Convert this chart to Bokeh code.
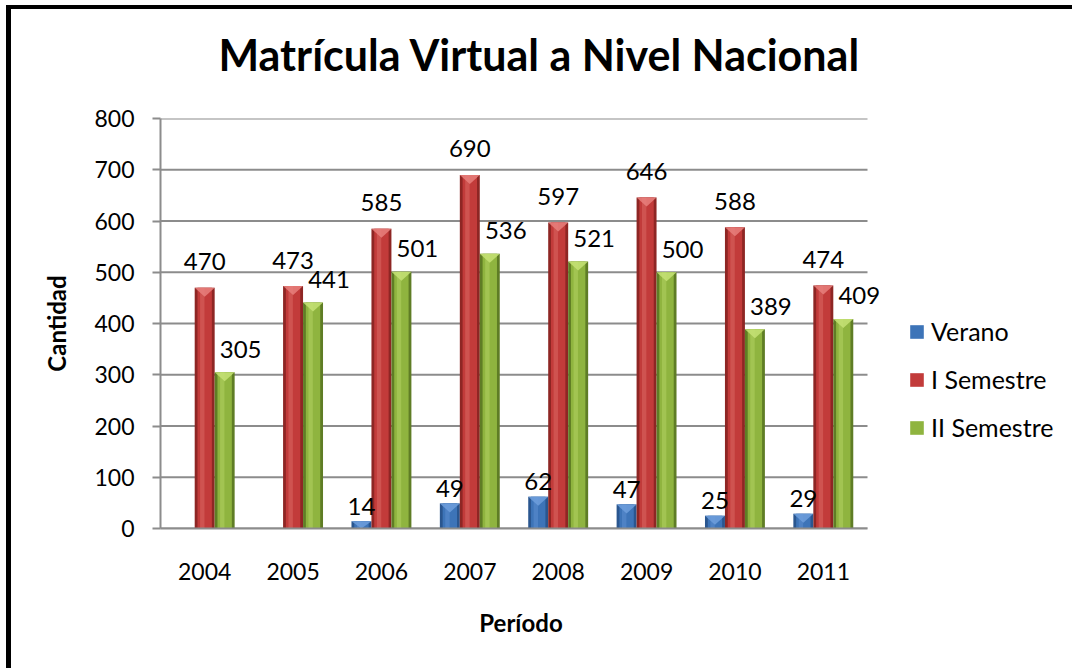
import numpy as np
from bokeh.plotting import figure
from bokeh.models import Range1d, FixedTicker, Legend, LegendItem, ColumnDataSource, LabelSet, Title
from bokeh.core.properties import value
from bokeh.embed import file_html
from bokeh.resources import INLINE

# ---- data ----
years = ["2004", "2005", "2006", "2007", "2008", "2009", "2010", "2011"]
verano = [0, 0, 14, 49, 62, 47, 25, 29]
i_semestre = [470, 473, 585, 690, 597, 646, 588, 474]
ii_semestre = [305, 441, 501, 536, 521, 500, 389, 409]
series_names = ["Verano", "I Semestre", "II Semestre"]
y_ticks = [0, 100, 200, 300, 400, 500, 600, 700, 800]
title_text = "Matrícula Virtual a Nivel Nacional"

FONT = "Lato"
n = len(years)
Y_MAX = 800
PLOT_W, PLOT_H = 707, 410          # pixel size of the category/value area
CAT_PX = PLOT_W / n
PX_PER_UNIT = PLOT_H / Y_MAX
EXTRA_R = 14                        # room so the last label is not clipped

p = figure(frame_width=PLOT_W + EXTRA_R, frame_height=PLOT_H,
           output_backend="svg", toolbar_location=None,
           x_range=Range1d(0, n + EXTRA_R / CAT_PX), y_range=Range1d(0, Y_MAX),
           min_border_left=149, min_border_right=205 - EXTRA_R, min_border_top=109,
           min_border_bottom=140)
p.styles = {"margin-left": "6px", "margin-top": "5px",
            "border-left": "5px solid black", "border-top": "4px solid black"}
p.outline_line_color = None
p.background_fill_color = "white"
p.border_fill_color = "white"

# real title (outermost) and a thin spacer title between it and the plot
p.title.text = title_text
p.title.text_font = FONT
p.title.text_font_size = "43px"
p.title.text_font_style = "bold"
p.title.text_color = "black"
p.title.align = "left"
p.title.offset = 58
p.title.standoff = 0
p.add_layout(Title(text=" ", text_font_size="1px", standoff=36), "above")

GRID = "#8c8c8c"
centers = np.arange(n) + 0.5

# horizontal gridlines limited to the category span
p.segment(x0=[0] * len(y_ticks), x1=[n] * len(y_ticks), y0=y_ticks, y1=y_ticks,
          line_color=GRID, line_width=2)

# axes
p.xaxis.ticker = FixedTicker(ticks=list(centers))
p.xaxis.major_label_overrides = {float(c): y for c, y in zip(centers, years)}
p.xaxis.bounds = (0, n)
p.xaxis.major_tick_out = 0
p.xaxis.major_tick_in = 0
p.xaxis.minor_tick_line_color = None
p.xaxis.axis_line_color = GRID
p.xaxis.axis_line_width = 2
p.xaxis.major_label_text_font = FONT
p.xaxis.major_label_text_font_size = "23px"
p.xaxis.major_label_text_color = "black"
p.xaxis.major_label_standoff = 34
p.xaxis.axis_label = "Período"
p.xaxis.axis_label_text_font = FONT
p.xaxis.axis_label_text_font_size = "24px"
p.xaxis.axis_label_text_font_style = "bold"
p.xaxis.axis_label_text_color = "black"
p.xaxis.axis_label_standoff = 25

p.yaxis.ticker = FixedTicker(ticks=y_ticks)
p.yaxis.major_tick_out = 8
p.yaxis.major_tick_in = 0
p.yaxis.major_tick_line_color = GRID
p.yaxis.major_tick_line_width = 2
p.yaxis.minor_tick_line_color = None
p.yaxis.axis_line_color = GRID
p.yaxis.axis_line_width = 2
p.yaxis.major_label_text_font = FONT
p.yaxis.major_label_text_font_size = "23px"
p.yaxis.major_label_text_color = "black"
p.yaxis.major_label_standoff = 18
p.yaxis.axis_label = "Cantidad"
p.yaxis.axis_label_text_font = FONT
p.yaxis.axis_label_text_font_size = "24px"
p.yaxis.axis_label_text_font_style = "bold"
p.yaxis.axis_label_text_color = "black"
p.yaxis.axis_label_standoff = 20

p.xgrid.grid_line_color = None
p.ygrid.grid_line_color = None

# bars
bw = 0.226
tri_h = 9 / PX_PER_UNIT

styles = [
    # values, offset, dark, main, light, label x_off, label y_off
    (verano, -bw, "#2a568f", "#3d74b8", "#6f9fdc", 0, -15),
    (i_semestre, 0.0, "#8e2624", "#c23b3a", "#e8807c", 0, -26),
    (ii_semestre, bw, "#5f7d25", "#8fb43f", "#c6e276", 16, -23),
]

legend_items = []
for name, (vals, off, dark, main, light, lx, ly) in zip(series_names, styles):
    vals = np.array(vals, dtype=float)
    xs = centers + off
    mask = vals > 0
    src = ColumnDataSource(dict(x=xs[mask], top=vals[mask],
                                lbl=[str(int(v)) for v in vals[mask]]))
    p.vbar(x="x", top="top", width=bw, source=src, fill_color=dark, line_color=None)
    main_r = p.vbar(x="x", top="top", width=bw * 0.72, source=src,
                    fill_color=main, line_color=None)
    p.vbar(x=xs[mask] - bw * 0.12, top=vals[mask], width=bw * 0.22,
           fill_color=light, fill_alpha=0.35, line_color=None)
    # bevel triangles on the tops
    txs, tys = [], []
    for x, v in zip(xs[mask], vals[mask]):
        h = min(tri_h, v)
        txs.append([x - bw / 2, x + bw / 2, x])
        tys.append([v, v, v - h])
    p.patches(txs, tys, fill_color=light, fill_alpha=0.85, line_color=None)
    labels = LabelSet(x="x", y="top", text="lbl", source=src, text_font=value(FONT),
                      text_align="center", text_baseline="middle",
                      x_offset=lx, y_offset=-ly,
                      text_font_size=value("24px"), text_color="black")
    p.add_layout(labels)
    legend_items.append(LegendItem(label=name, renderers=[main_r]))

legend = Legend(items=legend_items, location=(41 - EXTRA_R, 86), orientation="vertical")
legend.label_text_font = FONT
legend.label_text_font_size = "25px"
legend.label_text_color = "black"
legend.glyph_width = 17
legend.glyph_height = 17
legend.label_height = 26
legend.spacing = 18
legend.label_standoff = 6
legend.padding = 0
legend.margin = 0
legend.border_line_color = None
legend.background_fill_alpha = 0
p.add_layout(legend, "right")

open("out.html", "w").write(file_html(p, INLINE))
